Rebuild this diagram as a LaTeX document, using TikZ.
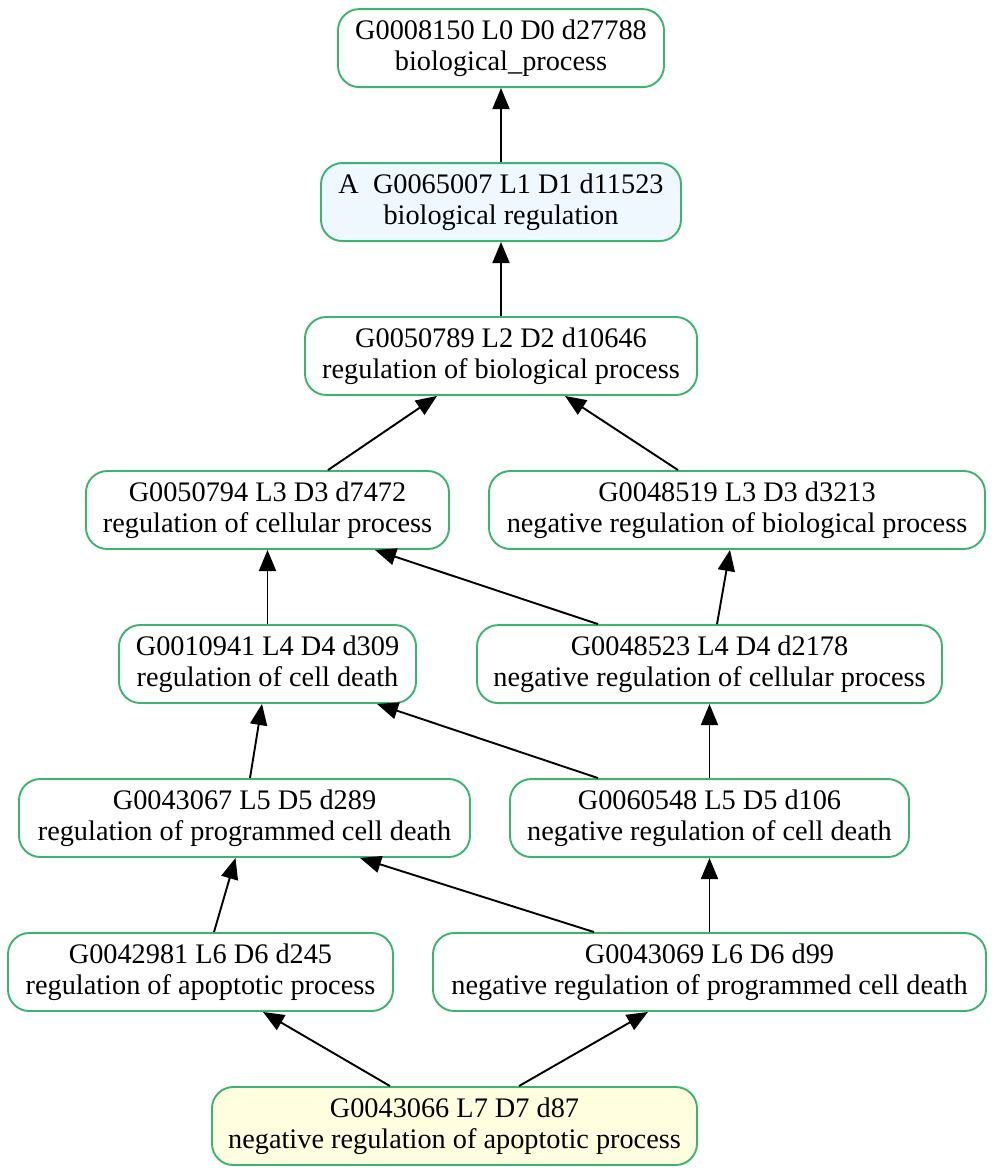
\documentclass[tikz,border=0pt]{standalone}
\usepackage{fontspec}
\setmainfont{Liberation Serif}
\usepackage{tikz}
\usetikzlibrary{positioning,arrows.meta}

\definecolor{goborder}{HTML}{3CB371}
\definecolor{goblue}{HTML}{F0F8FF}
\definecolor{goyellow}{HTML}{FFFFE0}

\tikzset{
  term/.style={draw=goborder, line width=0.9pt, rounded corners=10pt, align=center,
    inner sep=2pt, minimum height=36.66pt, font=\fontsize{13.3}{14.5}\selectfont},
  w/.style={minimum width=#1*0.47pt},
  isa/.style={line width=0.9pt, -{Triangle[length=9.9pt,width=8pt]}},
}

\begin{document}
\begin{tikzpicture}[x=0.47pt, y=-0.47pt, node distance=34.8pt]
  \useasboundingbox (0,0) rectangle (995,1175);
  % main chain
  \node [term, w=392] (n3) at (501,356) {G0050789 L2 D2 d10646\\regulation of biological process};
  \node [term, w=360, fill=goblue, above=of n3] (n2) {A\ \ G0065007 L1 D1 d11523\\biological regulation};
  \node [term, w=326, above=of n2] (n1) {G0008150 L0 D0 d27788\\biological\_process};
  %
  \node [term, w=363] (n4) at (267.5,510) {G0050794 L3 D3 d7472\\regulation of cellular process};
  \node [term, w=496] (n5) at (737,510) {G0048519 L3 D3 d3213\\negative regulation of biological process};
  \node [term, w=297] (n6) at (267.5,664) {G0010941 L4 D4 d309\\regulation of cell death};
  \node [term, w=451] (n8) at (244.5,818) {G0043067 L5 D5 d289\\regulation of programmed cell death};
  \node [term, w=385] (n10) at (200.5,972) {G0042981 L6 D6 d245\\regulation of apoptotic process};
  % negative branch
  \node [term, w=553] (n11) at (709.5,972) {G0043069 L6 D6 d99\\negative regulation of programmed cell death};
  \node [term, w=399, above=of n11] (n9) {G0060548 L5 D5 d106\\negative regulation of cell death};
  \node [term, w=465, above=of n9] (n7) {G0048523 L4 D4 d2178\\negative regulation of cellular process};
  %
  \node [term, w=485, fill=goyellow] (n12) at (454.5,1126) {G0043066 L7 D7 d87\\negative regulation of apoptotic process};

  \draw [isa] (n2) -- (n1);
  \draw [isa] (n3) -- (n2);
  \draw [isa] ([shift={(60.5,0)}]n4.north) -- ([shift={(-64,0)}]n3.south);
  \draw [isa] ([shift={(-59,0)}]n5.north) -- ([shift={(64,0)}]n3.south);
  \draw [isa] (n6) -- (n4);
  \draw [isa] ([shift={(-111.5,0)}]n7.north) -- ([shift={(107.5,0)}]n4.south);
  \draw [isa] ([shift={(7.5,0)}]n7.north) -- ([shift={(-7,0)}]n5.south);
  \draw [isa] ([shift={(5.5,0)}]n8.north) -- ([shift={(-5.5,0)}]n6.south);
  \draw [isa] ([shift={(-111.5,0)}]n9.north) -- ([shift={(109.5,0)}]n6.south);
  \draw [isa] (n9) -- (n7);
  \draw [isa] ([shift={(13.5,0)}]n10.north) -- ([shift={(-9,0)}]n8.south);
  \draw [isa] ([shift={(-115.5,0)}]n11.north) -- ([shift={(115.5,0)}]n8.south);
  \draw [isa] (n11) -- (n9);
  \draw [isa] ([shift={(-64.5,0)}]n12.north) -- ([shift={(62.5,0)}]n10.south);
  \draw [isa] ([shift={(64.5,0)}]n12.north) -- ([shift={(-61.5,0)}]n11.south);
\end{tikzpicture}
\end{document}
